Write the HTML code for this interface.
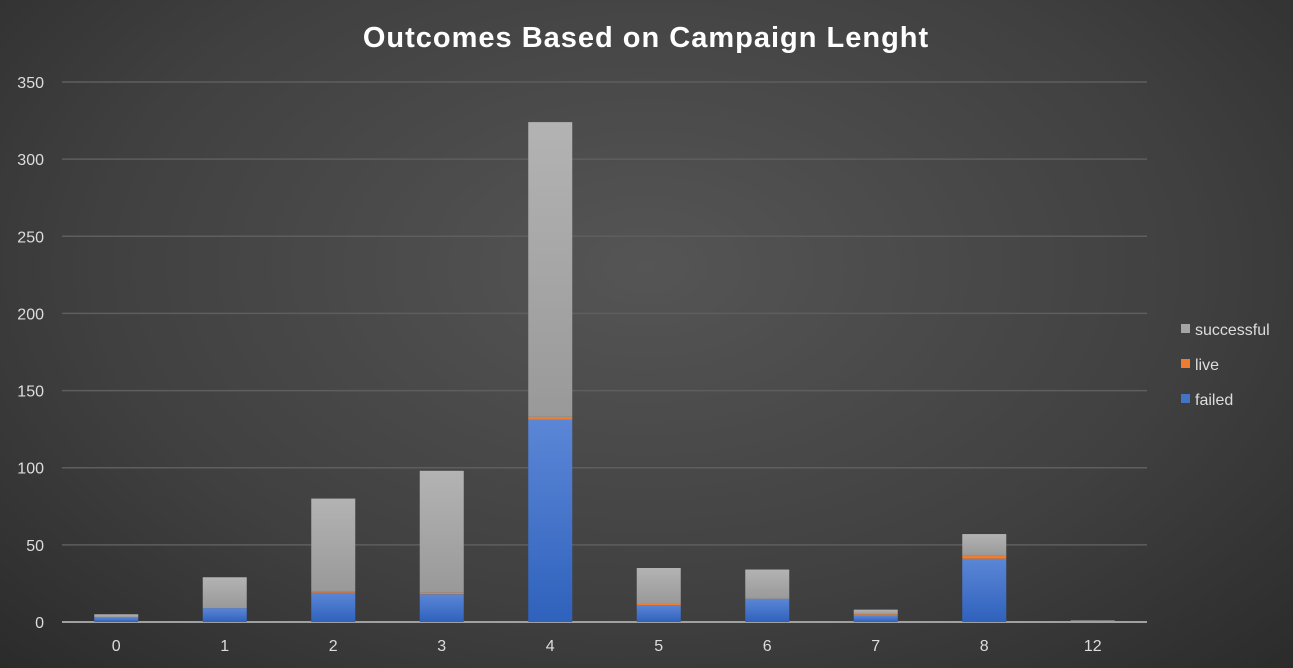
<!DOCTYPE html>
<html style="margin:0;width:1293px;height:668px;background:#333;"><head><meta charset="utf-8"><style>
body{margin:0;width:1293px;height:668px;overflow:hidden;background:radial-gradient(ellipse at 50% 40%,#555 0%,#404040 60%,#2b2b2b 100%);font-family:"Liberation Sans",sans-serif;}
svg{display:block;}
</style></head><body>
<svg id="chart" width="1293" height="668" xmlns="http://www.w3.org/2000/svg">
<defs>
<linearGradient id="gb" x1="0" y1="0" x2="0" y2="1"><stop offset="0" stop-color="#5b86d6"/><stop offset="1" stop-color="#2f62bd"/></linearGradient>
<linearGradient id="gg" x1="0" y1="0" x2="0" y2="1"><stop offset="0" stop-color="#b3b3b3"/><stop offset="1" stop-color="#999"/></linearGradient>
</defs>
<text x="646" y="47" text-anchor="middle" fill="#fff" font-size="29" font-weight="bold" letter-spacing="1">Outcomes Based on Campaign Lenght</text>
<g id="grid"></g><g id="bars"></g><g id="xl"></g>
<g font-size="16" fill="#ddd">
<rect x="1181" y="324" width="9" height="9" fill="#a5a5a5"/><text x="1195" y="335">successful</text>
<rect x="1181" y="359" width="9" height="9" fill="#ed7d31"/><text x="1195" y="370">live</text>
<rect x="1181" y="394" width="9" height="9" fill="#4472c4"/><text x="1195" y="405">failed</text>
</g>
</svg>
<script>
const categories=["0","1","2","3","4","5","6","7","8","12"];
const failed=[3,9,19,18,131,11,15,4,41,0];
const live=[0,0,1,1,2,1,0,1,2,0];
const successful=[2,20,60,79,191,23,19,3,14,1];
const yTicks=[0,50,100,150,200,250,300,350];
const NS="http://www.w3.org/2000/svg";
const x0=62,x1=1147,y0=622,y1=82,ymax=350;
const y=v=>y0-(v/ymax)*(y0-y1);
const bw=(x1-x0)/categories.length;
const xc=i=>x0+bw*(i+0.5);
function mk(t,a,p){const e=document.createElementNS(NS,t);for(const k in a)e.setAttribute(k,a[k]);p.appendChild(e);return e;}
const g=document.getElementById('grid');
yTicks.forEach(t=>{
 const l=mk('line',{x1:x0,x2:x1,y1:y(t),y2:y(t),stroke:t===0?'#a0a0a0':'#5e5e5e','stroke-width':t===0?2:1.5},g);
 
 
 const tx=mk('text',{x:44,y:y(t)+6,'text-anchor':'end',fill:'#ddd','font-size':16},g);tx.textContent=t;
 
 
});
const b=document.getElementById('bars'),xl=document.getElementById('xl');
categories.forEach((c,i)=>{
 const w=44,x=xc(i)-w/2;let base=0;
 [[failed,'url(#gb)','failed'],[live,'#ed7d31','live'],[successful,'url(#gg)','successful']].forEach(([arr,f,n])=>{
  const v=arr[i];if(v>0){
   const r=mk('rect',{x:x,y:y(base+v),width:w,height:y(base)-y(base+v),fill:f},b);
   
   
  }
  base+=v;
 });
 const t=mk('text',{x:xc(i),y:651,'text-anchor':'middle',fill:'#ddd','font-size':16},xl);t.textContent=c;
 
 
});
</script>
</body></html>
